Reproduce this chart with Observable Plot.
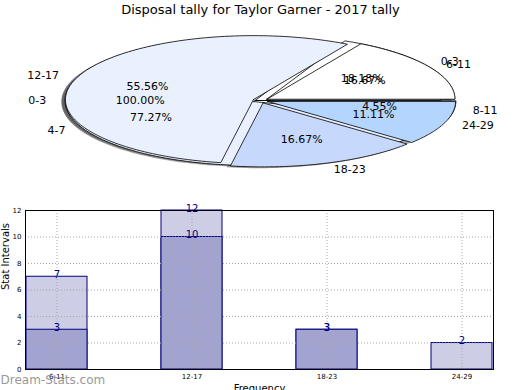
<!DOCTYPE html>
<html><head><meta charset="utf-8">
<script src="https://cdn.jsdelivr.net/npm/d3@7"></script>
<script src="https://cdn.jsdelivr.net/npm/@observablehq/plot@0.6"></script>
<style>
body{margin:0;background:#fff;font-family:"DejaVu Sans",sans-serif}
#pie svg,#bar svg{display:block}
</style></head><body>
<div id="pie"></div><div id="bar"></div>
<script>
const title = "Disposal tally for Taylor Garner - 2017 tally";
// overlaid pies, drawn bottom to top
const pie3Labels = ["0-3"];
const pie3Values = [1];
const pie2Labels = ["0-3", "4-7", "8-11"];
const pie2Values = [4, 17, 1];
const pie1Labels = ["6-11", "12-17", "18-23", "24-29"];
const pie1Values = [3, 10, 3, 2];
const sliceColors = ["#ffffff", "#eaf1fe", "#c6d9fd", "#b4d5fe"];

const barCategories = ["6-11", "12-17", "18-23", "24-29"];
const barLight = [7, 12, 3, 2];
const barDark = [3, 10, 3, null];
const yTicks = [0, 2, 4, 6, 8, 10, 12];

const FONT = "DejaVu Sans, sans-serif";

// ---------- pie ----------
const W = 520, PH = 190, CX = 260, CY = 100, RX = 188, RY = 64, EXPLODE = 0.04;
const pies = [
  {labels: pie3Labels, values: pie3Values},
  {labels: pie2Labels, values: pie2Values},
  {labels: pie1Labels, values: pie1Values}
];
const wedges = [], labelsR = [], labelsL = [], pcts = [];
pies.forEach((p, pi) => {
  const total = d3.sum(p.values);
  let acc = 0;
  p.values.forEach((v, i) => {
    const a0 = acc / total * 2 * Math.PI; acc += v;
    const a1 = acc / total * 2 * Math.PI;
    const mid = (a0 + a1) / 2;
    const ox = EXPLODE * Math.cos(mid), oy = EXPLODE * Math.sin(mid);
    const n = Math.max(2, Math.ceil((a1 - a0) / (Math.PI / 120)));
    const pts = [{x: ox, y: oy}];
    for (let k = 0; k <= n; k++) {
      const a = a0 + (a1 - a0) * k / n;
      pts.push({x: ox + Math.cos(a), y: oy + Math.sin(a)});
    }
    pts.push({x: ox, y: oy});
    wedges.push({pts, color: sliceColors[i]});
    const lab = {x: ox + 1.1 * Math.cos(mid), y: oy + 1.1 * Math.sin(mid), text: p.labels[i]};
    (Math.cos(mid) > 0 ? labelsR : labelsL).push(lab);
    pcts.push({x: ox + 0.6 * Math.cos(mid), y: oy + 0.6 * Math.sin(mid), text: (v / total * 100).toFixed(2) + "%"});
  });
});

const shadowMarks = wedges.map(w => Plot.line(w.pts.map(d => ({x: d.x - 0.02, y: d.y - 0.02})),
  {x: "x", y: "y", fill: "#4d4d4d", fillOpacity: 0.5, stroke: "none"}));
const wedgeMarks = wedges.map(w => Plot.line(w.pts,
  {x: "x", y: "y", fill: w.color, stroke: "black", strokeWidth: 0.8, strokeLinejoin: "round"}));

const pie = Plot.plot({
  width: W, height: PH, margin: 0,
  style: {fontFamily: FONT, background: "white"},
  x: {domain: [(0 - CX) / RX, (W - CX) / RX], axis: null},
  y: {domain: [(CY - PH) / RY, CY / RY], axis: null},
  marks: [
    ...shadowMarks,
    ...wedgeMarks,
    Plot.text(pcts, {x: "x", y: "y", text: "text", fontSize: 11, fill: "black"}),
    Plot.text(labelsR, {x: "x", y: "y", text: "text", fontSize: 11, fill: "black", textAnchor: "start"}),
    Plot.text(labelsL, {x: "x", y: "y", text: "text", fontSize: 11, fill: "black", textAnchor: "end"}),
    Plot.text([title], {frameAnchor: "top", dy: 4, fontSize: 13, fill: "black"})
  ]
});
document.getElementById("pie").appendChild(pie);

// ---------- bars ----------
const lightData = barCategories.map((c, i) => ({cat: c, value: barLight[i]})).filter(d => d.value != null);
const darkData = barCategories.map((c, i) => ({cat: c, value: barDark[i]})).filter(d => d.value != null);
const NAVY = "#000080";

const bar = Plot.plot({
  width: 520, height: 200,
  marginTop: 20, marginBottom: 21, marginLeft: 25, marginRight: 27,
  style: {fontFamily: FONT, fontSize: "7px", background: "white", overflow: "visible"},
  x: {type: "band", domain: barCategories, paddingInner: 0.55, paddingOuter: 0, label: null, tickSize: 0, tickPadding: 5},
  y: {domain: [0, 12], ticks: yTicks, label: null, tickSize: 0, tickPadding: 4},
  marks: [
    Plot.barY(lightData, {x: "cat", y: "value", fill: "#cdcde6", stroke: NAVY, strokeWidth: 1}),
    Plot.barY(darkData, {x: "cat", y: "value", fill: "#a3a3cf", stroke: NAVY, strokeWidth: 1}),
    Plot.ruleY(yTicks.slice(1, -1), {stroke: "#a8a8a8", strokeDasharray: "1,2", strokeWidth: 1}),
    Plot.ruleX(barCategories, {stroke: "#a8a8a8", strokeDasharray: "1,2", strokeWidth: 1}),
    Plot.text(lightData, {x: "cat", y: "value", text: "value", lineAnchor: "bottom", dy: 1, fontSize: 10, fill: NAVY}),
    Plot.text(darkData, {x: "cat", y: "value", text: "value", lineAnchor: "bottom", dy: 1, fontSize: 10, fill: NAVY}),
    Plot.frame({stroke: "black", strokeWidth: 1}),
    Plot.text(["Stat Intervals"], {frameAnchor: "left", dx: -20, rotate: -90, fontSize: 10, fill: "black"}),
    Plot.text(["Frequency"], {frameAnchor: "bottom", dy: 15, lineAnchor: "top", fontSize: 10, fill: "black"}),
    Plot.text(["Dream-Stats.com"], {frameAnchor: "bottom-left", dx: -25, dy: 11, lineAnchor: "middle", textAnchor: "start", fontSize: 12, fill: "#999999"})
  ]
});
document.getElementById("bar").appendChild(bar);
</script>
</body></html>
